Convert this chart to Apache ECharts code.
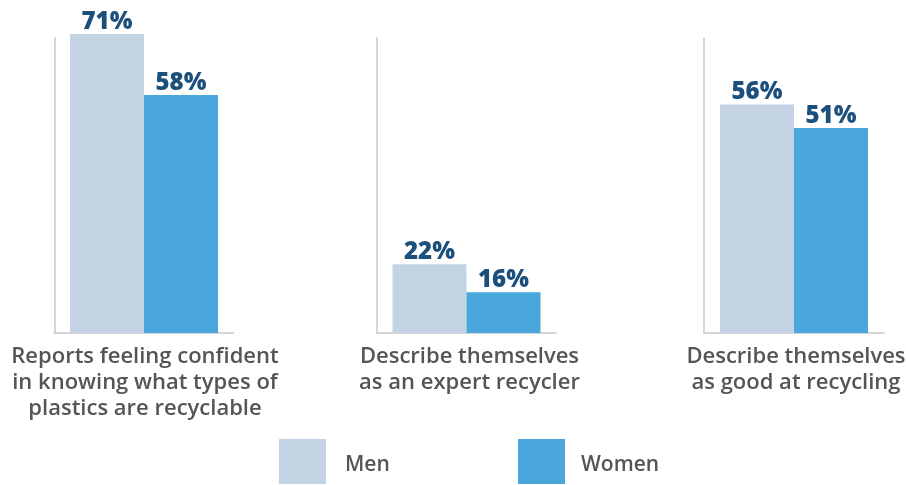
<!DOCTYPE html>
<html>
<head>
<meta charset="utf-8">
<script src="https://cdn.jsdelivr.net/npm/echarts@6/dist/echarts.min.js"></script>
<style>
html,body{margin:0;padding:0;background:#fff;}
#chart{width:906px;height:485px;}
</style>
</head>
<body>
<div id="chart"></div>
<script>
const categories = [
  "Reports feeling confident\nin knowing what types of\nplastics are recyclable",
  "Describe themselves\nas an expert recycler",
  "Describe themselves\nas good at recycling"
];
const men = [71, 22, 56];
const women = [58, 16, 51];
const seriesNames = ["Men", "Women"];

const FONT = '"Open Sans", "Noto Sans", sans-serif';
const colMen = '#c4d3e4';
const colWomen = '#49a7dc';
const labelColor = '#1b4f7c';
const axisColor = '#c8c8c8';

const gridLayout = [
  {left: 54.5, width: 179, pad: 2},
  {left: 377, width: 179, pad: 6},
  {left: 704, width: 180, pad: 4}
];
const grids = gridLayout.map(g => ({left: g.left, width: g.width, top: 38, height: 295, outerBoundsMode: 'none', containLabel: false}));

const xAxes = categories.map((c, i) => ({
  type: 'category', gridIndex: i, data: [c],
  axisLine: {lineStyle: {color: axisColor, width: 1.5}},
  axisTick: {show: false},
  axisLabel: {interval: 0, margin: 11, lineHeight: 26, fontSize: 22, fontWeight: 600, color: '#555', fontFamily: FONT,
    padding: [0, 0, 0, gridLayout[i].pad]}
}));
const yAxes = categories.map((c, i) => ({
  type: 'value', gridIndex: i, min: 7.35, max: 70.15, startValue: 7.35,
  axisLine: {show: true, lineStyle: {color: axisColor, width: 1.5}},
  axisTick: {show: false}, axisLabel: {show: false}, splitLine: {show: false}
}));

const lbl = {show: true, position: 'top', distance: 0, formatter: '{c}%', fontSize: 24, fontWeight: 800, color: labelColor, fontFamily: FONT};
const series = [];
categories.forEach((c, i) => {
  series.push({name: seriesNames[0], type: 'bar', xAxisIndex: i, yAxisIndex: i, data: [men[i]], barWidth: 74, barGap: '0%', clip: false, itemStyle: {color: colMen}, label: lbl});
  series.push({name: seriesNames[1], type: 'bar', xAxisIndex: i, yAxisIndex: i, data: [women[i]], barWidth: 74, barGap: '0%', clip: false, itemStyle: {color: colWomen}, label: lbl});
});

function legendText(leftPad) {
  return {
    fontSize: 21, fontWeight: 600, color: '#555', fontFamily: FONT,
    rich: {t: {fontSize: 21, fontWeight: 600, color: '#555', fontFamily: FONT, padding: [7, 0, 0, leftPad]}}
  };
}
const chart = echarts.init(document.getElementById('chart'), null, {renderer: 'canvas'});
chart.setOption({
  animation: false,
  color: [colMen, colWomen],
  grid: grids,
  xAxis: xAxes,
  yAxis: yAxes,
  legend: [
    {data: [seriesNames[0]], left: 279, top: 439, itemWidth: 47, itemHeight: 45, icon: 'rect', formatter: '{t|{name}}', textStyle: legendText(14), selectedMode: false, padding: 0},
    {data: [seriesNames[1]], left: 518, top: 439, itemWidth: 47, itemHeight: 45, icon: 'rect', formatter: '{t|{name}}', textStyle: legendText(11), selectedMode: false, padding: 0}
  ],
  series: series
});
</script>
</body>
</html>
